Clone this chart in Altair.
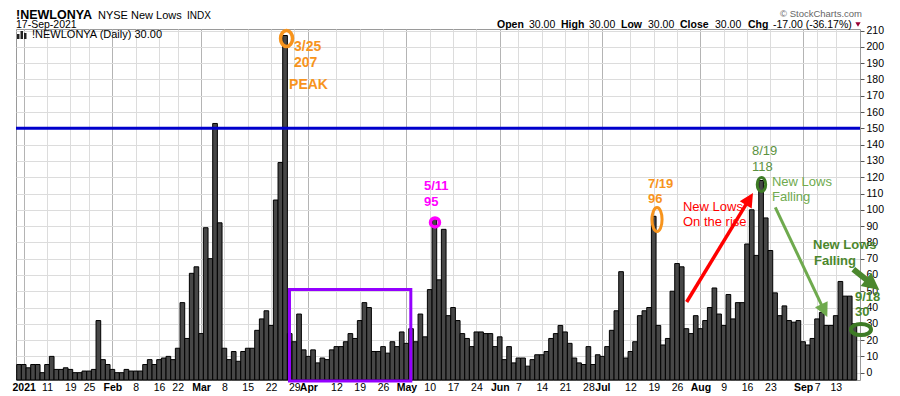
import json
import altair as alt
import pandas as pd

# ---------------- data ----------------
# daily NYSE new lows, 31-Dec-2020 .. 17-Sep-2021 (one value per trading day)
new_lows = [5, 5, 3, 5, 5, 0, 5, 10, 2, 2, 3, 2, 0, 0, 1, 1, 2, 32, 8, 5, 2, 0, 0, 2, 1, 1, 1, 5, 8, 5,
            8, 9, 10, 8, 15, 43, 21, 61, 65, 24, 89, 70, 153, 92, 15, 8, 13, 7, 13, 15, 15, 26, 33, 38, 29, 106, 129, 207, 24, 19,
            36, 14, 10, 14, 6, 9, 8, 14, 16, 16, 19, 24, 21, 32, 43, 40, 13, 13, 16, 12, 19, 16, 25, 18, 27, 19, 36, 22, 51, 95,
            57, 88, 35, 40, 32, 24, 21, 16, 25, 25, 24, 24, 16, 22, 8, 16, 6, 9, 9, 4, 8, 11, 11, 13, 21, 24, 29, 25, 18, 9,
            6, 5, 16, 5, 11, 10, 16, 26, 38, 62, 9, 13, 19, 35, 38, 40, 96, 29, 17, 21, 50, 67, 65, 27, 24, 35, 27, 32, 40, 52,
            36, 29, 48, 33, 43, 43, 79, 100, 72, 118, 95, 75, 49, 35, 41, 32, 31, 32, 19, 17, 21, 33, 37, 29, 29, 35, 56, 47, 47, 30]

tick_index = [1, 6, 11, 15, 20, 25, 30, 34, 39, 44, 49, 54, 59, 62, 68, 73, 78, 83, 88, 93, 98,
              103, 107, 112, 117, 122, 125, 131, 136, 141, 146, 151, 156, 161, 168, 171, 175]
tick_labels = ["2021", "11", "19", "25", "Feb", "8", "16", "22", "Mar", "8", "15", "22", "29", "Apr",
               "12", "19", "26", "May", "10", "17", "24", "Jun", "7", "14", "21", "28", "Jul", "12",
               "19", "26", "Aug", "9", "16", "23", "Sep", "7", "13"]
month_ticks = [t for t, l in zip(tick_index, tick_labels) if not l.isdigit() or l == "2021"]
y_ticks = list(range(0, 211, 10))

threshold = 150
box = {"i0": 57.95, "i1": 83.95, "v0": 51.1, "v1": -5.1}   # purple consolidation box

FONT = "Liberation Sans"
ORANGE = "#F7941D"
MAGENTA = "#FF00FF"
RED = "#FF0000"
GREEN_TXT = "#5B9140"
GREEN_LT = "#6FAA4E"
GREEN_DK = "#4B872D"
GREEN_OV = "#3E7B26"

W, H = 844, 351
xscale = alt.Scale(domain=[-0.65, 180.2], nice=False, zero=False)
yscale = alt.Scale(domain=[-4.5, 211], nice=False, zero=False)

df = pd.DataFrame({"i": list(range(len(new_lows))), "v": new_lows})

label_expr = f"{json.dumps(tick_labels)}[indexof({json.dumps(tick_index)}, datum.value)]"
month_test = f"indexof({json.dumps(month_ticks)}, datum.value) >= 0"

xaxis = alt.Axis(values=tick_index, labelExpr=label_expr, grid=True,
                 gridColor={"condition": {"test": month_test, "value": "#b4b4b4"}, "value": "#dcdcdc"},
                 ticks=False, domain=False, labelFont=FONT, labelFontSize=10.5, labelColor="#000",
                 labelFontWeight={"condition": {"test": month_test, "value": "bold"}, "value": "normal"},
                 labelPadding=2, labelOverlap=False, labelFlush=False, title=None)
yaxis = alt.Axis(orient="right", values=y_ticks, grid=True, gridColor="#dcdcdc", domain=False,
                 ticks=True, tickSize=4, tickColor="#555", labelFont=FONT, labelFontSize=10.5,
                 labelColor="#000", labelPadding=2, title=None)


def X(field):
    return alt.X(field, scale=xscale, axis=xaxis, title=None)


def Y(field):
    return alt.Y(field, scale=yscale, axis=yaxis, title=None)


bars = alt.Chart(df).transform_calculate(
    x0="datum.i - 0.5", x1="datum.i + 0.5"
).mark_rect(fill="#474747", stroke="#000", strokeWidth=1).encode(
    x=X("x0:Q"), x2="x1:Q", y=Y("v:Q"), y2=alt.value(H))

rule150 = alt.Chart(pd.DataFrame({"v": [threshold]})).mark_rule(
    color="#0000CC", strokeWidth=3).encode(y=Y("v:Q"))

purple = alt.Chart(pd.DataFrame([box])).mark_rect(
    fill="transparent", stroke="#9400FF", strokeWidth=3).encode(
    x=X("i0:Q"), x2="i1:Q", y=Y("v0:Q"), y2="v1:Q")

layers = [bars, rule150, purple]


def ellipse_path(rx, ry):
    return f"M {-rx} 0 A {rx} {ry} 0 1 0 {rx} 0 A {rx} {ry} 0 1 0 {-rx} 0 Z"


def anchor(idx):
    return pd.DataFrame({"i": [idx], "v": [new_lows[idx]]})


# circles/ovals around marked bars: (index, rx, ry, px size, stroke, color, dx, dy)
rings = [
    (57, 0.75, 1.0, 16, 3.5, ORANGE, 1.5, 3),
    (89, 1.0, 1.0, 9, 3.5, MAGENTA, 0.6, 4.5),
    (136, 0.42, 1.0, 24, 3, ORANGE, 3.3, 3.2),
    (159, 0.6, 1.0, 14, 3, GREEN_OV, 0.4, 4),
    (179, 1.0, 0.55, 20, 4, GREEN_OV, 6.6, 5.7),
]
for idx, rx, ry, px, sw, col, dx, dy in rings:
    layers.append(alt.Chart(anchor(idx)).mark_point(
        shape=ellipse_path(rx, ry), size=px * px, filled=False, color=col, strokeWidth=sw,
        opacity=1, xOffset=dx, yOffset=dy).encode(x=X("i:Q"), y=Y("v:Q")))

# text anchored on marked bars: (index, text, color, bold, size, dx, dy)
peak_texts = [
    (57, "3/25", ORANGE, True, 14, 9, 11),
    (57, "207", ORANGE, True, 14, 9, 27.5),
    (57, "PEAK", ORANGE, True, 14, 4, 49.5),
    (89, "5/11", MAGENTA, True, 13, -10.4, -31.5),
    (89, "95", MAGENTA, True, 13, -10.4, -16),
    (136, "7/19", ORANGE, True, 13, -5.7, -32.3),
    (136, "96", ORANGE, True, 13, -5.7, -17.3),
    (159, "8/19", GREEN_TXT, False, 13, -9.1, -29.5),
    (159, "118", GREEN_TXT, False, 13, -9.1, -13.5),
    (179, "9/18", GREEN_DK, True, 13, 0.6, -26.8),
    (179, "30", GREEN_DK, True, 13, 0.6, -11.8),
]
for idx, txt, col, bold, fs, dx, dy in peak_texts:
    layers.append(alt.Chart(anchor(idx)).mark_text(
        text=txt, color=col, font=FONT, fontSize=fs, fontWeight="bold" if bold else "normal",
        align="left", baseline="middle", dx=dx, dy=dy).encode(x=X("i:Q"), y=Y("v:Q")))

# free comments placed in chart (index, value) units
notes = [
    ("New Lows", RED, False, 142.27, 101.7),
    ("On the rise", RED, False, 142.27, 92.8),
    ("New Lows", GREEN_LT, False, 161.34, 116.8),
    ("Falling", GREEN_LT, False, 161.34, 107.9),
    ("New Lows", GREEN_DK, True, 170.13, 78.1),
    ("Falling", GREEN_DK, True, 170.34, 68.6),
]
for txt, col, bold, ni, nv in notes:
    layers.append(alt.Chart(pd.DataFrame({"i": [ni], "v": [nv]})).mark_text(
        text=txt, color=col, font=FONT, fontSize=13, fontWeight="bold" if bold else "normal",
        align="left", baseline="middle").encode(x=X("i:Q"), y=Y("v:Q")))

# arrows: start (i, v), tip (i, v), colour, shaft width, head length px, angle, shaft fraction
arrows = [
    (143.06, 43.4, 157.27, 110.3, RED, 3.5, 14, 31.3, 0.93),
    (162.05, 101.5, 173.19, 34.2, GREEN_LT, 3, 14, 154.7, 0.93),
    (178.77, 63.5, 184.33, 50.8, GREEN_DK, 6, 17, 128.5, 0.7),
]
HEAD = "M 0 0 L 0.5 1 L -0.5 1 Z"
for i0, v0, i1, v1, col, sw, hl, ang, frac in arrows:
    shaft = pd.DataFrame({"i0": [i0], "v0": [v0],
                          "i1": [i0 + (i1 - i0) * frac], "v1": [v0 + (v1 - v0) * frac]})
    layers.append(alt.Chart(shaft).mark_rule(color=col, strokeWidth=sw).encode(
        x=X("i0:Q"), y=Y("v0:Q"), x2="i1:Q", y2="v1:Q"))
    layers.append(alt.Chart(pd.DataFrame({"i": [i1], "v": [v1]})).mark_point(
        shape=HEAD, size=(2 * hl) ** 2, filled=True, color=col, opacity=1, angle=ang).encode(
        x=X("i:Q"), y=Y("v:Q")))

# ---------------- header / legend texts (pixel positions relative to plot) ----------------
one = pd.DataFrame({"a": [0]})


def label(txt, x, y, size=11, bold=False, color="#000", align="left", baseline="alphabetic"):
    return alt.Chart(one).mark_text(
        text=txt, font=FONT, fontSize=size, fontWeight="bold" if bold else "normal",
        color=color, align=align, baseline=baseline).encode(x=alt.value(x), y=alt.value(y))


def block(x0, x1, y0, y1):
    return alt.Chart(one).mark_rect(color="#222").encode(
        x=alt.value(x0), x2=alt.value(x1), y=alt.value(y0), y2=alt.value(y1))


ROW1, ROW2 = -9.8, -1.0
header = [
    label("!NEWLONYA", 0, ROW1, 12.5, True),
    label("NYSE New Lows", 82, ROW1, 11),
    label("INDX", 171, ROW1, 10),
    label("17-Sep-2021", 0, ROW2, 10.5),
    label("\u00a9 StockCharts.com", 846, -12.4, 9.5, color="#666", align="right"),
    label("Open", 481, ROW2, 10.5, True), label("30.00", 513, ROW2, 10.5),
    label("High", 545, ROW2, 10.5, True), label("30.00", 573, ROW2, 10.5),
    label("Low", 605, ROW2, 10.5, True), label("30.00", 632, ROW2, 10.5),
    label("Close", 664, ROW2, 10.5, True), label("30.00", 699, ROW2, 10.5),
    label("Chg", 732, ROW2, 10.5, True), label("-17.00 (-36.17%)", 757, ROW2, 10.5),
    label("!NEWLONYA (Daily) 30.00", 16, 6, 11, baseline="middle"),
]
tri = alt.Chart(one).mark_point(shape="triangle-down", size=28, filled=True, color="#990033",
                                opacity=1).encode(x=alt.value(842), y=alt.value(-4.5))
icon = [block(1, 3.5, 5, 10), block(4.5, 7, 2, 10), block(8, 10.5, 4, 10)]
layers += header + [tri] + icon

chart = alt.layer(*layers).properties(
    width=W, height=H,
    autosize=alt.AutoSizeParams(type="none"),
    padding={"left": 8, "top": 21, "right": 30, "bottom": 14},
    background="white",
).configure_view(stroke="#9a9a9a", strokeWidth=1)

chart.save("out.html", embed_options={"renderer": "svg", "actions": False})
